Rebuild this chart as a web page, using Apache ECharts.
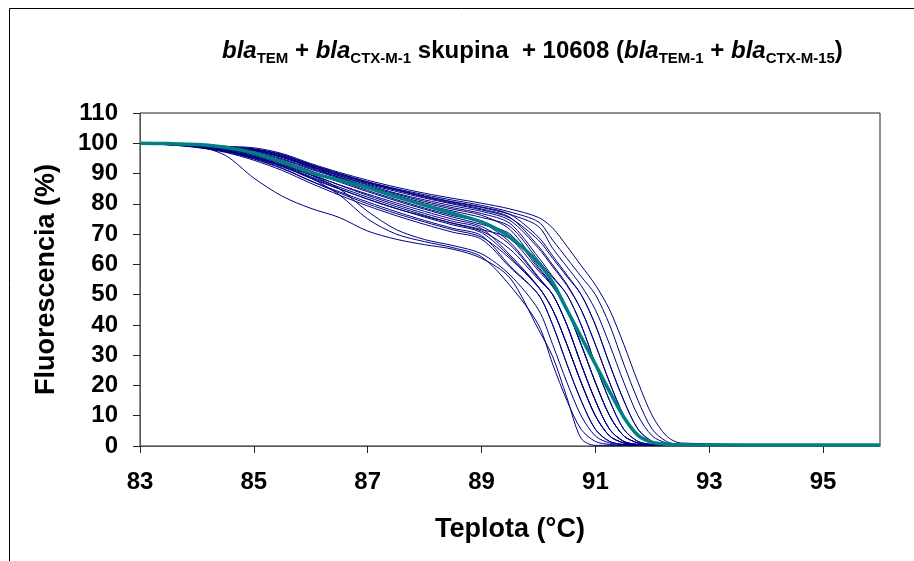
<!DOCTYPE html>
<html>
<head>
<meta charset="utf-8">
<script src="https://cdn.jsdelivr.net/npm/echarts@6/dist/echarts.min.js"></script>
<style>
html,body{margin:0;padding:0;background:#fff;}
#chart{width:914px;height:561px;}
</style>
</head>
<body>
<div id="chart"></div>
<script>
// Temperature grid (°C) shared by all curves
const temps = [83, 83.5, 84, 84.5, 85, 85.5, 86, 86.5, 87, 87.5, 88, 88.5, 89, 89.5, 90, 90.25, 90.5, 90.75, 91, 91.25, 91.5, 91.75, 92, 92.25, 92.5, 96];

// Individual melting curves (fluorescence %)
const curveU1 = [100, 99.9, 99.6, 99.0, 98.5, 96.6, 93.3, 90.4, 87.8, 85.5, 83.5, 81.8, 80.2, 78.3, 75.5, 72, 66, 59.6, 53.2, 45, 33.5, 21, 10, 3.3, 1, 0.2];
const curveU2 = [100, 99.9, 99.5, 98.8, 98.0, 96.0, 92.8, 90.0, 87.3, 85.0, 83.0, 81.2, 79.5, 77.3, 74, 68, 62, 56, 50, 40, 27, 15, 5.5, 1.5, 0.5, 0.2];
const curveU3 = [100, 99.9, 99.5, 98.8, 97.8, 95.7, 92.5, 89.6, 86.8, 84.5, 82.4, 80.5, 78.8, 76.5, 72.5, 65.3, 59.2, 53, 45, 33.5, 21, 10, 3.3, 1, 0.4, 0.2];
const curveU4 = [100, 99.8, 99.4, 98.6, 97.6, 95.4, 92.2, 89.3, 86.5, 84.1, 81.9, 79.9, 78.0, 75.3, 68, 62, 56, 50, 40, 27, 15, 5.5, 1.5, 0.5, 0.3, 0.2];
const curveU5 = [100, 99.8, 99.4, 98.7, 97.7, 95.6, 92.4, 89.2, 86.2, 83.5, 81.3, 79.3, 77.5, 74.5, 65.3, 59.2, 53, 45, 33.5, 21, 10, 3.3, 1, 0.4, 0.2, 0.2];
const curveU6 = [100, 99.8, 99.3, 98.4, 97.2, 94.9, 91.7, 88.7, 85.8, 83.2, 80.8, 78.7, 76.8, 73.5, 62.3, 56, 50, 40, 27, 15, 5.5, 1.5, 0.5, 0.2, 0.2, 0.2];
const curveU7 = [100, 99.8, 99.4, 98.6, 97.5, 95.3, 92.0, 88.8, 85.6, 82.8, 80.3, 78.2, 76.2, 71.5, 59.2, 53, 45, 33.5, 21, 10, 3.3, 1, 0.4, 0.2, 0.2, 0.2];
const curveU8 = [100, 99.8, 99.3, 98.3, 96.9, 94.6, 91.4, 88.4, 85.4, 82.5, 79.8, 77.6, 75.5, 72.5, 61.3, 55.6, 50, 40, 27, 15, 5.5, 1.5, 0.5, 0.2, 0.2, 0.2];
const curveU9 = [100, 99.9, 99.6, 98.9, 98.2, 96.3, 93.0, 90.0, 87.2, 84.8, 82.6, 80.7, 79.0, 76.5, 69, 62.8, 56.5, 50, 40, 27, 15, 5.5, 1.5, 0.5, 0.3, 0.2];
const curveU10 = [100, 99.9, 99.5, 98.8, 98.0, 96.1, 92.9, 89.9, 87.0, 84.6, 82.2, 80.2, 78.3, 75.5, 66, 59.8, 53.4, 45, 33.5, 21, 10, 3.3, 1, 0.4, 0.2, 0.2];
const curveL1 = [100, 99.7, 99.1, 98.0, 96.4, 93.8, 90.4, 87.2, 84.0, 81.0, 78.2, 75.6, 73.2, 70, 58.6, 52.9, 45, 33.5, 21, 10, 3.3, 1, 0.4, 0.2, 0.2, 0.2];
const curveL2 = [100, 99.7, 99.0, 97.8, 96.0, 93.2, 89.6, 86.3, 83.2, 80.3, 77.5, 74.9, 72.5, 66.5, 55.5, 50, 40, 27, 15, 5.5, 1.5, 0.5, 0.2, 0.2, 0.2, 0.2];
const curveL3 = [100, 99.7, 99.1, 98.0, 96.2, 93.4, 89.8, 86.2, 82.8, 79.7, 76.8, 74.2, 71.8, 63.1, 52.6, 45, 33.5, 21, 10, 3.3, 1, 0.4, 0.2, 0.2, 0.2, 0.2];
const curveL4 = [100, 99.6, 98.9, 97.6, 95.7, 92.8, 89.0, 85.5, 82.2, 79.1, 76.2, 73.5, 71.0, 65, 55, 50, 40, 27, 15, 5.5, 1.5, 0.5, 0.2, 0.2, 0.2, 0.2];
const curveL5 = [100, 99.6, 98.8, 97.4, 95.3, 92.3, 88.4, 84.9, 81.6, 78.5, 75.6, 73.0, 70.5, 62.5, 52.5, 45, 33.5, 21, 10, 3.3, 1, 0.4, 0.2, 0.2, 0.2, 0.2];
const curveL6 = [100, 99.6, 98.8, 97.3, 95.0, 91.8, 87.6, 84.0, 80.6, 77.4, 74.5, 71.9, 69.5, 59.5, 50, 40, 27, 15, 5.5, 1.5, 0.5, 0.2, 0.2, 0.2, 0.2, 0.2];
const curveL7 = [100, 99.5, 98.7, 97.2, 94.8, 91.6, 87.5, 83.6, 80.0, 76.8, 74.0, 71.4, 69.0, 61.9, 52.4, 45, 33.5, 21, 10, 3.3, 1, 0.4, 0.2, 0.2, 0.2, 0.2];
const curveL8 = [100, 99.5, 98.6, 97.0, 94.4, 91.0, 86.8, 82.9, 79.3, 76.1, 73.2, 70.6, 68.3, 59, 50, 40, 27, 15, 5.5, 1.5, 0.5, 0.2, 0.2, 0.2, 0.2, 0.2];
const curveL9 = [100, 99.6, 98.9, 97.5, 95.4, 92.5, 88.7, 85.0, 81.5, 78.4, 75.9, 73.6, 71.5, 68.4, 57.9, 52.6, 45, 33.5, 21, 10, 3.3, 1, 0.4, 0.2, 0.2, 0.2];
const curveL10 = [100, 99.7, 99.2, 98.2, 96.7, 94.2, 90.9, 87.6, 84.4, 81.4, 78.6, 76.1, 73.8, 67.3, 55.8, 50, 40, 27, 15, 5.5, 1.5, 0.5, 0.2, 0.2, 0.2, 0.2];
const curveX1 = [100, 99.6, 98.8, 97.3, 95.2, 92.3, 88.5, 83, 75, 70, 67.5, 65.5, 62.5, 53, 40, 27, 15, 5.5, 1.5, 0.5, 0.2, 0.2, 0.2, 0.2, 0.2, 0.2];
const curveX2 = [100, 99.7, 99.0, 97.6, 95.6, 92.8, 89.5, 85, 77.5, 71.5, 68.2, 66.2, 63.5, 56.5, 45, 33.5, 21, 10, 3.3, 1, 0.4, 0.2, 0.2, 0.2, 0.2, 0.2];
const curveJ = [100, 99.5, 99.0, 96, 88.5, 82.5, 78.5, 75.5, 71, 68.3, 66.5, 65, 62, 55.5, 38.5, 29.5, 16, 2.5, 0.2, 0.2, 0.2, 0.2, 0.2, 0.2, 0.2, 0.2];

// Thick teal (reference / average) curve
const curveAverage = [100, 99.9, 99.6, 98.7, 96.8, 93.8, 90.3, 87.8, 85.3, 82.3, 79.5, 76.8, 74, 69, 60.5, 54, 45, 36, 27, 18, 9.5, 3.5, 1.2, 0.6, 0.4, 0.3];

const blueCurves = [curveU1, curveU2, curveU3, curveU4, curveU5, curveU6, curveU7, curveU8, curveU9, curveU10,
  curveL1, curveL2, curveL3, curveL4, curveL5, curveL6, curveL7, curveL8, curveL9, curveL10,
  curveX1, curveX2, curveJ];

const xName = 'Teplota (°C)';
const yName = 'Fluorescencia (%)';

const FONT = '"Liberation Sans", Arial, sans-serif';

function toPairs(vals) { return temps.map((t, i) => [t, vals[i]]); }

const series = blueCurves.map((c, k) => ({
  type: 'line', name: 'c' + k, data: toPairs(c), symbol: 'none', smooth: 0.3,
  lineStyle: { color: '#000080', width: 1 }, silent: true, z: 2
}));
series.push({
  type: 'line', name: 'avg', data: toPairs(curveAverage), symbol: 'none', smooth: 0.3,
  lineStyle: { color: '#008080', width: 3.5 }, silent: true, z: 3
});

const chart = echarts.init(document.getElementById('chart'), null, { renderer: 'canvas' });
const base = { fontFamily: FONT, fontWeight: 'bold', color: '#000' };
chart.setOption({
  animation: false,
  backgroundColor: '#fff',
  title: {
    text: '{i|bla}{s|TEM}{b| + }{i|bla}{s|CTX-M-1}{b| skupina  + 10608 (}{i|bla}{s|TEM-1}{b| + }{i|bla}{s|CTX-M-15}{b|)}',
    left: 222, top: 36, padding: 0,
    textStyle: {
      rich: {
        b: Object.assign({ fontSize: 24, lineHeight: 30 }, base),
        i: Object.assign({ fontSize: 24, lineHeight: 30, fontStyle: 'italic' }, base),
        s: Object.assign({ fontSize: 15, lineHeight: 18, verticalAlign: 'bottom' }, base)
      }
    }
  },
  graphic: [{
    type: 'polyline', silent: true,
    shape: { points: [[9.5, 561], [9.5, 8.5], [914, 8.5]] },
    style: { stroke: '#000', lineWidth: 1, fill: null }
  }],
  grid: { left: 140, top: 113, right: 34, bottom: 115, show: true, borderColor: '#222', borderWidth: 1, containLabel: false },
  xAxis: {
    type: 'value', min: 83, max: 96, interval: 2,
    name: xName, nameLocation: 'middle', nameGap: 70,
    nameTextStyle: Object.assign({ fontSize: 27 }, base),
    axisLine: { show: true, onZero: false, lineStyle: { color: '#555', width: 1 } },
    axisTick: { show: true, length: 7, lineStyle: { color: '#222' } },
    axisLabel: Object.assign({ fontSize: 24, margin: 24, showMaxLabel: false,
      formatter: v => (v === 96 ? '' : String(v)) }, base),
    splitLine: { show: false }
  },
  yAxis: {
    type: 'value', min: 0, max: 110, interval: 10,
    name: yName, nameLocation: 'middle', nameGap: 80, nameRotate: 90,
    nameTextStyle: Object.assign({ fontSize: 27 }, base),
    axisLine: { show: true, lineStyle: { color: '#555', width: 1 } },
    axisTick: { show: true, length: 7, lineStyle: { color: '#222' } },
    axisLabel: Object.assign({ fontSize: 24, margin: 22 }, base),
    splitLine: { show: false }
  },
  series: series
});
</script>
</body>
</html>
